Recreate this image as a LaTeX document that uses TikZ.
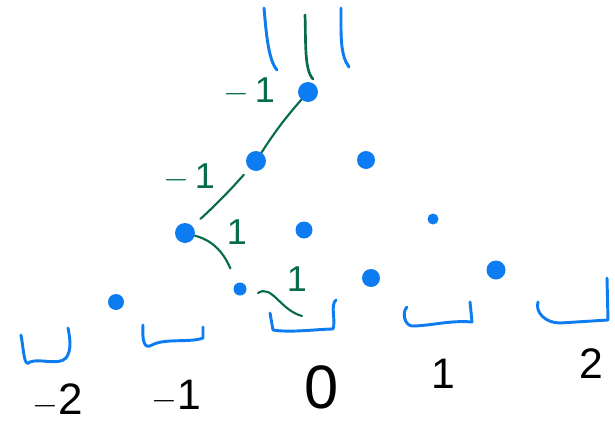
\documentclass[tikz,border=0pt]{standalone}
\usepackage{fontspec}
\setmainfont{Liberation Sans}
\definecolor{pblue}{RGB}{12,124,240}
\definecolor{pgreen}{RGB}{8,108,72}
\begin{document}
\begin{tikzpicture}[x=0.75pt,y=-0.75pt,
  dot/.style={circle,fill=pblue,inner sep=0pt,minimum size=#1*0.75pt},
  bline/.style={draw=pblue,line width=2.2pt,line cap=round,line join=round},
  gline/.style={draw=pgreen,line width=1.6pt,line cap=round},
  glab/.style={text=pgreen,inner sep=0pt,font=\fontsize{27}{29}\selectfont},
  klab/.style={text=black,inner sep=0pt}]
\useasboundingbox (0,0) rectangle (615,425);
% dots
\node[dot=20] (d1) at (308,92) {};
\node[dot=20] (d2) at (256,161) {};
\node[dot=18] (d3) at (366,160) {};
\node[dot=20] (d4) at (185,233) {};
\node[dot=17] (d5) at (304,230) {};
\node[dot=11] (d6) at (433,219) {};
\node[dot=13] (d7) at (240,289) {};
\node[dot=16] (d8) at (116,302) {};
\node[dot=18] (d9) at (371,278) {};
\node[dot=19] (d10) at (496,270) {};
% top strokes
\draw[bline] (264,8) .. controls (266,30) and (268,60) .. (277,70);
\draw[gline,line width=2pt] (305,15) .. controls (306,40) and (304,70) .. (313,79);
\draw[bline] (341,8) .. controls (341,35) and (340,55) .. (349,67);
% green connectors
\draw[gline] (d1) to[bend right=4] (d2);
\draw[gline,shorten <=6pt,shorten >=8pt] (d2) to[bend left=3] (d4);
\draw[gline,shorten >=12pt] (d4) to[out=-15,in=115] (d7);
\coordinate (t1) at (258,293);
\coordinate (t2) at (302,316);
\draw[gline] (t1) .. controls (272,284) and (280,310) .. (t2);
% green labels
\node[glab] (g1) at (249,91) {$-$\,1};
\node[glab] (g2) at (189,177) {$-$\,1};
\node[glab] (g3) at (237,232) {1};
\node[glab] (g4) at (297,279) {1};
% brackets
\draw[bline] (21,335) .. controls (24,352) and (24,368) .. (30,362) .. controls (40,358) and (58,366) .. (66,358) .. controls (72,350) and (70,338) .. (68,328);
\draw[bline] (143,325) .. controls (142,340) and (144,350) .. (152,345) .. controls (165,338) and (190,343) .. (203,338) -- (203,327);
\draw[bline] (270,313) -- (273,330) .. controls (290,333) and (320,329) .. (333,329) .. controls (336,320) and (330,305) .. (336,300);
\draw[bline] (407,307) .. controls (402,312) and (404,325) .. (412,326) .. controls (430,326) and (450,320) .. (472,322) -- (470,302);
\draw[bline] (538,302) .. controls (535,312) and (545,323) .. (560,323) -- (608,320) -- (607,278);
% black labels
\node[klab,font=\fontsize{33}{35}\selectfont] (n1) at (58,401) {$-$2};
\node[klab,font=\fontsize{32}{34}\selectfont] (n2) at (176,396) {$-$1};
\node[klab,font=\fontsize{46}{48}\selectfont] (n3) at (322,387) {0};
\node[klab,font=\fontsize{32}{34}\selectfont] (n4) at (443,374) {1};
\node[klab,font=\fontsize{32}{34}\selectfont] (n5) at (591,364) {2};
\end{tikzpicture}
\end{document}
